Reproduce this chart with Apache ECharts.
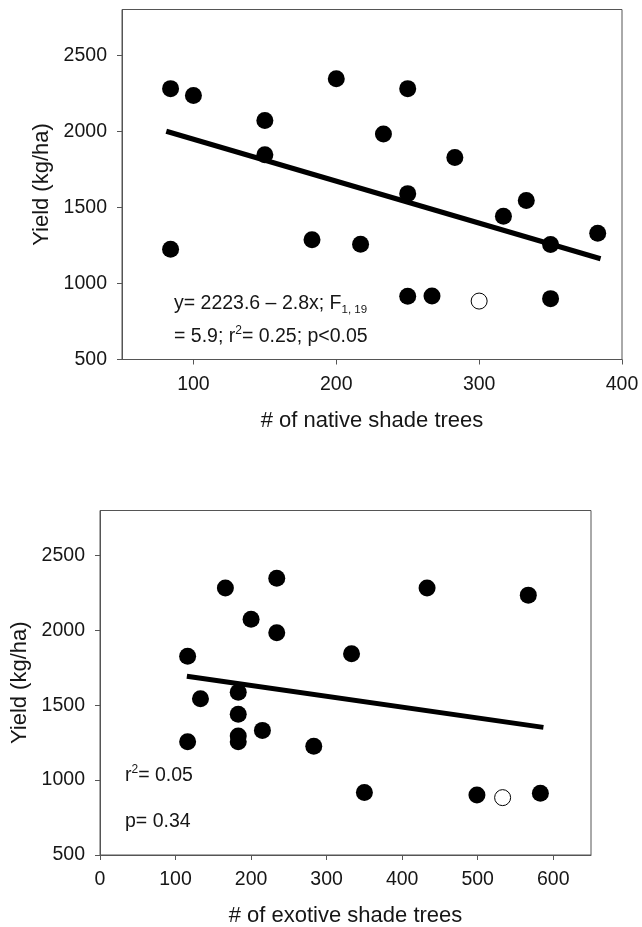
<!DOCTYPE html>
<html>
<head>
<meta charset="utf-8">
<script src="https://cdn.jsdelivr.net/npm/echarts@6/dist/echarts.min.js"></script>
<style>
html,body{margin:0;padding:0;background:#fff;}
#chart{width:642px;height:927px;}
</style>
</head>
<body>
<div id="chart"></div>
<script>
// ---- Top panel: native shade trees ----
const nativeTrees = [84, 100, 84, 150, 150, 183, 200, 217, 233, 250, 250, 250, 267, 283, 317, 333, 350, 350, 383];
const nativeYield = [2280, 2235, 1225, 2070, 1845, 1287, 2345, 1257, 1982, 2280, 1590, 915, 918, 1827, 1441, 1545, 1255, 900, 1330];
const nativeOpenTrees = [300];
const nativeOpenYield = [884];
const nativeFitTrees = [81, 385];
const nativeFitYield = [2000, 1162];
const nativeTicks = [100, 200, 300, 400];

// ---- Bottom panel: exotic shade trees ----
const exoticTrees = [116, 116, 133, 166, 183, 183, 183, 183, 200, 215, 234, 234, 283, 333, 350, 433, 499, 567, 583];
const exoticYield = [1827, 1256, 1543, 2283, 1587, 1439, 1294, 1256, 2074, 1332, 2347, 1984, 1226, 1843, 917, 2283, 901, 2235, 912];
const exoticOpenTrees = [533];
const exoticOpenYield = [883];
const exoticFitTrees = [115, 587];
const exoticFitYield = [1693, 1352];
const exoticTicks = [0, 100, 200, 300, 400, 500, 600];

const yieldTicks = [500, 1000, 1500, 2000, 2500];

const FONT = "'Liberation Sans', Arial, Helvetica, sans-serif";
const AXIS_COLOR = '#555';
const TEXT_COLOR = '#161616';

function zip(xs, ys) { return xs.map((x, i) => [x, ys[i]]); }
const plain = v => String(v);

function xAxisCfg(gridIndex, min, max, ticks, name) {
  return {
    type: 'value', gridIndex, min, max,
    name, nameLocation: 'middle', nameGap: 50,
    nameTextStyle: { fontSize: 22, fontFamily: FONT, color: TEXT_COLOR },
    axisLine: { show: true, lineStyle: { color: AXIS_COLOR, width: 1 } },
    axisTick: { show: true, inside: false, length: 5, customValues: ticks, lineStyle: { color: AXIS_COLOR } },
    axisLabel: { customValues: ticks, formatter: plain, margin: 15, fontSize: 19.5, fontFamily: FONT, color: TEXT_COLOR },
    splitLine: { show: false }
  };
}
function yAxisCfg(gridIndex) {
  return {
    type: 'value', gridIndex, min: 500, max: 2800,
    name: 'Yield (kg/ha)', nameLocation: 'middle', nameGap: 62,
    nameTextStyle: { fontSize: 22, fontFamily: FONT, color: TEXT_COLOR },
    axisLine: { show: true, lineStyle: { color: AXIS_COLOR, width: 1 } },
    axisTick: { show: true, inside: false, length: 5, customValues: yieldTicks, lineStyle: { color: AXIS_COLOR } },
    axisLabel: { customValues: yieldTicks, formatter: plain, margin: 15, fontSize: 19.5, fontFamily: FONT, color: TEXT_COLOR },
    splitLine: { show: false }
  };
}

const dotStyle = { color: '#000', opacity: 1 };
const openStyle = { color: '#fff', borderColor: '#000', borderWidth: 1, opacity: 1 };

const chart = echarts.init(document.getElementById('chart'), null, { renderer: 'canvas' });
chart.setOption({
  backgroundColor: '#fff',
  animation: false,
  grid: [
    { left: 122, top: 9.5, width: 500, height: 350, show: true, borderColor: AXIS_COLOR, borderWidth: 1, backgroundColor: 'transparent', outerBoundsMode: 'none' },
    { left: 100, top: 510.5, width: 491, height: 344.5, show: true, borderColor: AXIS_COLOR, borderWidth: 1, backgroundColor: 'transparent', outerBoundsMode: 'none' }
  ],
  xAxis: [
    xAxisCfg(0, 50, 400, nativeTicks, '# of native shade trees'),
    xAxisCfg(1, 0, 650, exoticTicks, '# of exotive shade trees')
  ],
  yAxis: [yAxisCfg(0), yAxisCfg(1)],
  series: [
    { type: 'line', xAxisIndex: 0, yAxisIndex: 0, data: zip(nativeFitTrees, nativeFitYield), symbol: 'none',
      lineStyle: { color: '#000', width: 5, cap: 'butt' }, z: 2 },
    { type: 'scatter', xAxisIndex: 0, yAxisIndex: 0, data: zip(nativeTrees, nativeYield), symbol: 'circle', symbolSize: 17, itemStyle: dotStyle, z: 3 },
    { type: 'scatter', xAxisIndex: 0, yAxisIndex: 0, data: zip(nativeOpenTrees, nativeOpenYield), symbol: 'circle', symbolSize: 16, itemStyle: openStyle, z: 3 },
    { type: 'line', xAxisIndex: 1, yAxisIndex: 1, data: zip(exoticFitTrees, exoticFitYield), symbol: 'none',
      lineStyle: { color: '#000', width: 5, cap: 'butt' }, z: 2 },
    { type: 'scatter', xAxisIndex: 1, yAxisIndex: 1, data: zip(exoticTrees, exoticYield), symbol: 'circle', symbolSize: 17, itemStyle: dotStyle, z: 3 },
    { type: 'scatter', xAxisIndex: 1, yAxisIndex: 1, data: zip(exoticOpenTrees, exoticOpenYield), symbol: 'circle', symbolSize: 16, itemStyle: openStyle, z: 3 }
  ],
  graphic: [
    { type: 'text', x: 174, y: 304, z: 10, style: {
      text: 'y= 2223.6 – 2.8x; F{sub|1, 19}', fontSize: 19.5, fontFamily: FONT, fill: TEXT_COLOR,
      align: 'left', verticalAlign: 'middle', lineHeight: 24,
      rich: { sub: { fontSize: 11.5, fontFamily: FONT, fill: TEXT_COLOR, verticalAlign: 'bottom', lineHeight: 12 } } } },
    { type: 'text', x: 174, y: 337, z: 10, style: {
      text: '= 5.9; r{sup|2}= 0.25; p<0.05', fontSize: 19.5, fontFamily: FONT, fill: TEXT_COLOR,
      align: 'left', verticalAlign: 'middle', lineHeight: 24,
      rich: { sup: { fontSize: 12, fontFamily: FONT, fill: TEXT_COLOR, verticalAlign: 'top', lineHeight: 12 } } } },
    { type: 'text', x: 125, y: 775.5, z: 10, style: {
      text: 'r{sup|2}= 0.05', fontSize: 19.5, fontFamily: FONT, fill: TEXT_COLOR,
      align: 'left', verticalAlign: 'middle', lineHeight: 24,
      rich: { sup: { fontSize: 12, fontFamily: FONT, fill: TEXT_COLOR, verticalAlign: 'top', lineHeight: 12 } } } },
    { type: 'text', x: 125, y: 822, z: 10, style: {
      text: 'p= 0.34', fontSize: 19.5, fontFamily: FONT, fill: TEXT_COLOR,
      align: 'left', verticalAlign: 'middle', lineHeight: 24 } }
  ]
});
</script>
</body>
</html>
